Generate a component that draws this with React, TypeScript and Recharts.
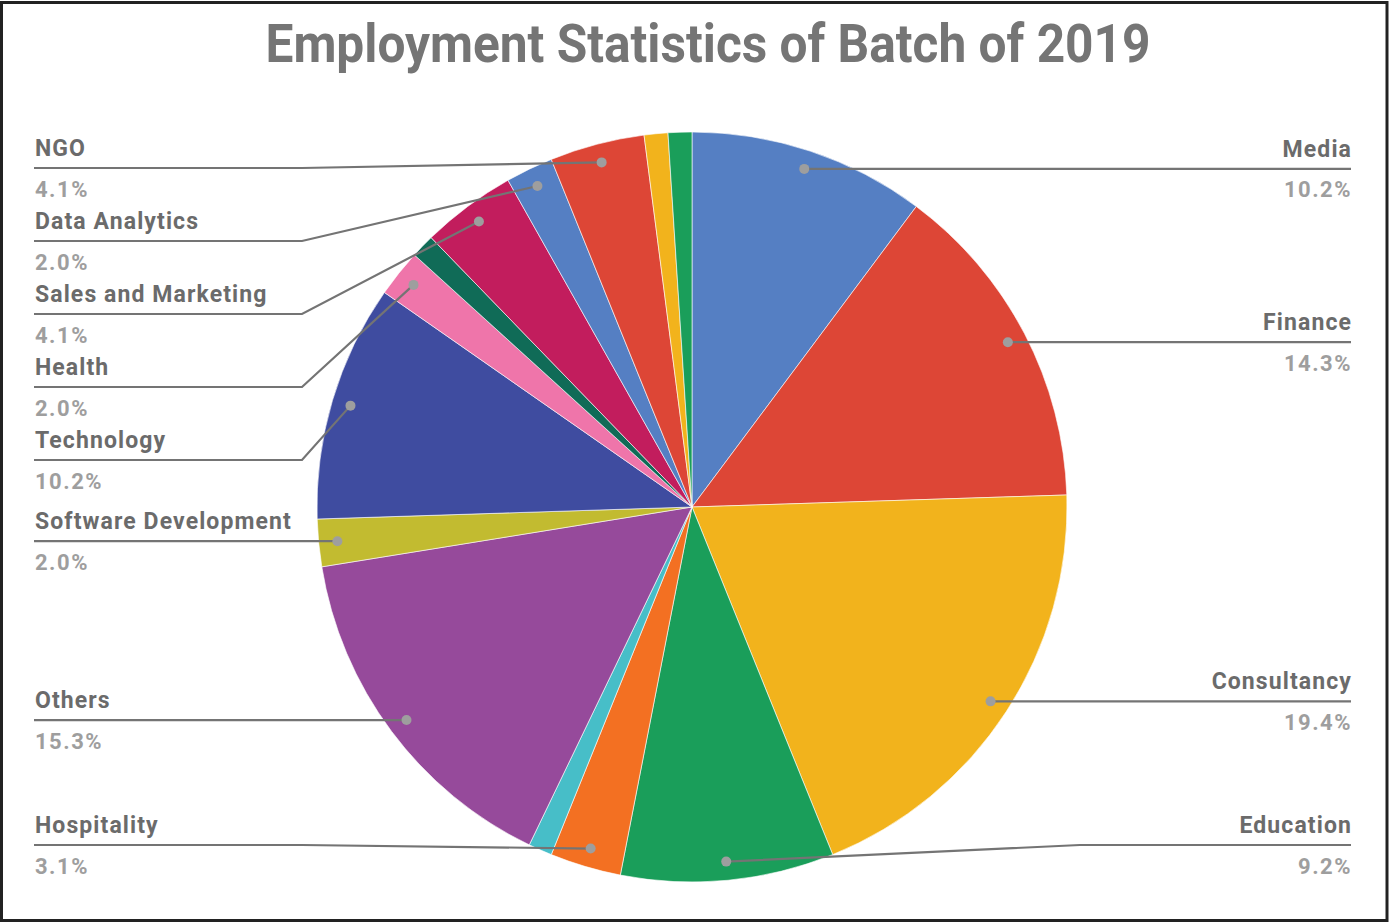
import React from "react";
import { Pie, PieChart, Cell } from "recharts";

// slices clockwise from 12 o'clock; empty name = slice without a label
const categories = [
  "Media",
  "Finance",
  "Consultancy",
  "Education",
  "Hospitality",
  "",
  "Others",
  "Software Development",
  "Technology",
  "Health",
  "",
  "Sales and Marketing",
  "Data Analytics",
  "NGO",
  "",
  "",
];
const employed = [10, 14, 19, 9, 3, 1, 15, 2, 10, 2, 1, 4, 2, 4, 1, 1];
const colors = [
  "#557FC3",
  "#DD4636",
  "#F2B31C",
  "#1A9E5A",
  "#F37022",
  "#47BEC8",
  "#964A9B",
  "#C2BB30",
  "#3F4CA0",
  "#EF75AA",
  "#106B57",
  "#C21D5D",
  "#557FC3",
  "#DD4636",
  "#F2B31C",
  "#1A9E5A",
];

const W = 1389;
const H = 923;
const CX = 692;
const CY = 507;
const R = 375;
const DOT_R = R * 0.95;
const LEFT_X = 34;
const RIGHT_X = 1352;
const LEFT_BEND = 302;
const RIGHT_BEND = 1080;
const GAP = 73;
const MIN_Y = 168;
const MAX_Y = 845;

const data = categories.map((name, i) => ({ name, value: employed[i] }));
const total = employed.reduce((a, b) => a + b, 0);

// place labels on each side, stacked so they don't overlap
function layoutLabels() {
  let acc = 0;
  const pts = employed.map((v, i) => {
    const mid = ((acc + v / 2) / total) * 2 * Math.PI;
    acc += v;
    const x = CX + DOT_R * Math.sin(mid);
    const y = CY - DOT_R * Math.cos(mid);
    return { i, x, y, left: x < CX, ly: y };
  });
  const out: Record<number, number> = {};
  [true, false].forEach((side) => {
    const list = pts
      .filter((p) => p.left === side && categories[p.i] !== "")
      .sort((a, b) => a.y - b.y);
    let prev = -Infinity;
    list.forEach((p) => {
      p.ly = Math.max(p.y, prev + GAP, MIN_Y);
      prev = p.ly;
    });
    let next = Infinity;
    for (let k = list.length - 1; k >= 0; k--) {
      list[k].ly = Math.min(list[k].ly, next - GAP, MAX_Y);
      next = list[k].ly;
    }
    list.forEach((p) => (out[p.i] = p.ly));
  });
  return out;
}
const labelY = layoutLabels();

const renderLabel = (props: any) => {
  const { index, midAngle, cx, cy, outerRadius, percent } = props;
  const name = categories[index];
  if (!name) return null;
  const rad = (-midAngle * Math.PI) / 180;
  const r = outerRadius * 0.95;
  const dx = cx + r * Math.cos(rad);
  const dy = cy + r * Math.sin(rad);
  const left = dx < cx;
  const ly = labelY[index];
  const lineEnd = left ? LEFT_X : RIGHT_X - 1;
  const tx = left ? LEFT_X + 1 : RIGHT_X;
  const bx = left ? Math.min(LEFT_BEND, dx) : Math.max(RIGHT_BEND, dx);
  return (
    <g key={`lbl-${index}`}>
      <polyline
        points={`${lineEnd},${ly} ${bx},${ly} ${dx},${dy}`}
        fill="none"
        stroke="#747474"
        strokeWidth={2.2}
      />
      <circle cx={dx} cy={dy} r={5} fill="#9E9E9E" />
      <text
        x={tx}
        y={ly - 12}
        textAnchor={left ? "start" : "end"}
        fill="#6B6B6B"
        fontSize={23}
        fontWeight={700}
        fontFamily="Roboto"
        letterSpacing={1.1}
      >
        {name}
      </text>
      <text
        x={tx}
        y={ly + 28.5}
        textAnchor={left ? "start" : "end"}
        fill="#9E9E9E"
        fontSize={22}
        fontWeight={700}
        fontFamily="Roboto"
        letterSpacing={1.5}
      >
        {(percent * 100).toFixed(1)}%
      </text>
    </g>
  );
};

export default function App() {
  return (
    <div style={{ position: "relative", width: W, height: H, background: "#fff" }}>
      <style>{"body{margin:0}"}</style>
      <PieChart width={W} height={H} margin={{ top: 0, right: 0, bottom: 0, left: 0 }}>
        <Pie
          data={data}
          dataKey="value"
          nameKey="name"
          cx={CX}
          cy={CY}
          outerRadius={R}
          startAngle={90}
          endAngle={-270}
          stroke="#ffffff"
          strokeWidth={0.6}
          label={renderLabel}
          labelLine={false}
          isAnimationActive={false}
        >
          {data.map((_, i) => (
            <Cell key={`cell-${i}`} fill={colors[i]} />
          ))}
        </Pie>
      </PieChart>
      <svg
        width={W}
        height={H}
        style={{ position: "absolute", left: 0, top: 0, pointerEvents: "none" }}
      >
        <text
          x={708}
          y={62}
          textAnchor="middle"
          fill="#757575"
          fontSize={54}
          fontWeight={700}
          fontFamily="Roboto"
          textLength={885}
          lengthAdjust="spacingAndGlyphs"
        >
          Employment Statistics of Batch of 2019
        </text>
        <rect x={1.5} y={2.5} width={W - 3.5} height={H - 5} fill="none" stroke="#222" strokeWidth={3} />
      </svg>
    </div>
  );
}
